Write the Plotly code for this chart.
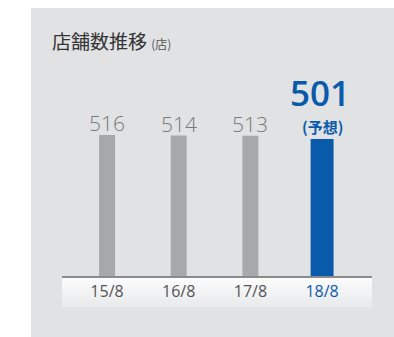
import plotly.graph_objects as go

categories = ["15/8", "16/8", "17/8", "18/8"]
values = [516, 514, 513, 501]
forecast = [False, False, False, True]
title_text = "店舗数推移"
unit_text = "(店)"
forecast_text = "(予想)"

GRAY_BAR = "#a7a8aa"
BLUE = "#0a5aab"
PANEL = "#e1e2e4"
W, H = 394, 337
L, R, T, B = 62, 22, 60, 61
pw, ph = W - L - R, H - T - B

def px_x(x):
    return (x - L) / pw

def px_y(y):
    return (H - B - y) / ph

bar_colors = [BLUE if f else GRAY_BAR for f in forecast]
bar_widths = [0.32 if f else 0.223 for f in forecast]
ticktext = [f"<span style='color:{BLUE}'>{c}</span>" if f else c for c, f in zip(categories, forecast)]

fig = go.Figure()
fig.add_trace(go.Bar(
    x=list(range(len(categories))), y=values,
    marker=dict(color=bar_colors, line=dict(width=0)),
    width=bar_widths, hoverinfo="skip",
))

shapes = [dict(type="rect", xref="paper", yref="paper",
               x0=px_x(31), x1=px_x(W + 2), y0=px_y(H + 2), y1=px_y(8),
               fillcolor=PANEL, line=dict(width=0), layer="below")]
# gradient label strip
n = 12
top, bot = 277, 307
for i in range(n):
    y0 = top + (bot - top) * i / n
    y1 = top + (bot - top) * (i + 1) / n
    t = i / (n - 1)
    c0 = (252, 252, 252)
    c1 = (233, 234, 236)
    col = "rgb(%d,%d,%d)" % tuple(round(a + (b - a) * t) for a, b in zip(c0, c1))
    shapes.append(dict(type="rect", xref="paper", yref="paper",
                       x0=0, x1=1, y0=px_y(y1 + 0.5), y1=px_y(y0),
                       fillcolor=col, line=dict(width=0), layer="below"))

annotations = []
for i, (v, f) in enumerate(zip(values, forecast)):
    if f:
        annotations.append(dict(x=i, y=v, xref="x", yref="y", text=str(v),
                                showarrow=False, yanchor="middle", yshift=47, xshift=-2,
                                font=dict(family="Open Sans", size=35, color=BLUE, weight=600)))
        annotations.append(dict(x=i, y=v, xref="x", yref="y", text=forecast_text,
                                showarrow=False, yanchor="middle", yshift=13,
                                font=dict(family="Noto Sans CJK JP", size=15, color=BLUE, weight=700)))
    else:
        annotations.append(dict(x=i, y=v, xref="x", yref="y", text=str(v),
                                showarrow=False, yanchor="middle", yshift=12,
                                font=dict(family="Open Sans", size=21, color="#78797b", weight=300)))

annotations.append(dict(xref="paper", yref="paper", x=px_x(50), y=px_y(41),
                        xanchor="left", yanchor="middle", showarrow=False,
                        text=f"{title_text} <span style='font-size:12px;color:#555'>{unit_text}</span>",
                        font=dict(family="Noto Sans CJK JP", size=19, color="#333333")))

fig.update_layout(
    width=W, height=H,
    margin=dict(l=L, r=R, t=T, b=B),
    paper_bgcolor="white", plot_bgcolor="rgba(0,0,0,0)",
    showlegend=False,
    shapes=shapes, annotations=annotations,
    xaxis=dict(range=[-0.628, 3.696], tickvals=list(range(len(categories))), ticktext=ticktext,
               showgrid=False, zeroline=False, showline=True, linecolor="#8a8b8d", linewidth=2,
               ticks="", tickfont=dict(family="Open Sans", size=16, color="#555555"),
               fixedrange=True),
    yaxis=dict(range=[0, ph / 0.2733], visible=False, fixedrange=True),
)

fig.write_html("out.html")
